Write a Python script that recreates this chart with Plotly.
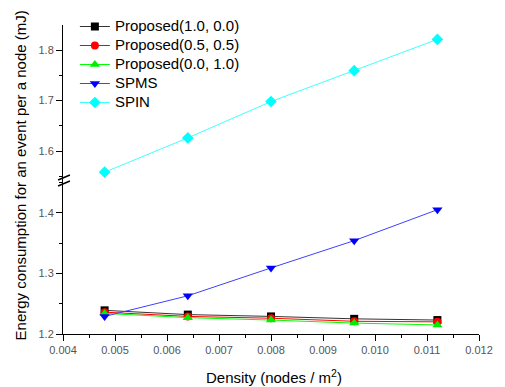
import plotly.graph_objects as go

density = [0.0048, 0.0064, 0.0080, 0.0096, 0.0112]
prop_10 = [1.239, 1.232, 1.229, 1.225, 1.223]
prop_55 = [1.236, 1.229, 1.226, 1.221, 1.220]
prop_01 = [1.234, 1.227, 1.223, 1.218, 1.215]
spms = [1.229, 1.263, 1.309, 1.354, 1.405]
spin = [1.558, 1.626, 1.698, 1.759, 1.821]
series_names = ["Proposed(1.0, 0.0)", "Proposed(0.5, 0.5)", "Proposed(0.0, 1.0)", "SPMS", "SPIN"]

W, H = 505, 387
L, R, T, B = 63, 22, 25, 53
plot_h = H - T - B
break_px = 180
split = (H - B - break_px) / plot_h

fig = go.Figure()

def add(name, y, color, lcolor, symbol, axis, size=8):
    fig.add_trace(go.Scatter(
        x=density, y=y, name='<span style="font-size:15px">' + name + '</span>',
        mode="lines+markers", yaxis=axis,
        line=dict(color=lcolor, width=1),
        marker=dict(color=color, symbol=symbol, size=size, line=dict(width=0)),
    ))

add(series_names[0], prop_10, "#000000", "#333333", "square", "y", 8)
add(series_names[1], prop_55, "#ff0000", "#ff0000", "circle", "y", 8)
add(series_names[2], prop_01, "#00ee00", "#00ff00", "triangle-up", "y", 9)
add(series_names[3], spms, "#0000ff", "#4040ff", "triangle-down", "y", 9)
add(series_names[4], spin, "#00ffff", "#40ffff", "diamond", "y2", 9)

tickfont = dict(family="Liberation Sans, Arial, sans-serif", size=11, color="#555555")

def px_to_paper_y(py):
    return (H - B - py) / plot_h

def px_to_paper_x(px):
    return (px - L) / (W - L - R)

fig.update_layout(
    width=W, height=H,
    margin=dict(l=L, r=R, t=T, b=B),
    paper_bgcolor="white", plot_bgcolor="white",
    font=dict(family="Liberation Sans, Arial, sans-serif", color="black"),
    showlegend=True,
    legend=dict(x=px_to_paper_x(75), y=px_to_paper_y(12), xanchor="left", yanchor="top",
                bgcolor="rgba(0,0,0,0)", font=dict(size=11, color="black"),
                tracegroupgap=0, itemwidth=30),
    xaxis=dict(range=[0.004, 0.012], dtick=0.001, tick0=0.004, tickformat=".3f",
               showgrid=False, zeroline=False, showline=True, linecolor="black",
               linewidth=1, ticks="outside", ticklen=6, tickcolor="black",
               minor=dict(dtick=0.0005, ticks="outside", ticklen=3, tickcolor="black"),
               tickfont=tickfont),
    yaxis=dict(domain=[0, split], range=[1.2, 1.454], tickvals=[1.2, 1.3, 1.4],
               ticktext=["1.2", "1.3", "1.4"],
               showgrid=False, zeroline=False, showline=True, linecolor="black",
               linewidth=1, ticks="outside", ticklen=6, tickcolor="black",
               minor=dict(tickvals=[1.25, 1.35, 1.45], ticks="outside", ticklen=3, tickcolor="black"),
               tickfont=tickfont),
    yaxis2=dict(domain=[split, 1], range=[1.5426, 1.8495], tickvals=[1.6, 1.7, 1.8],
                ticktext=["1.6", "1.7", "1.8"],
                showgrid=False, zeroline=False, showline=True, linecolor="black",
                linewidth=1, ticks="outside", ticklen=6, tickcolor="black",
                minor=dict(tickvals=[1.55, 1.65, 1.75, 1.85], ticks="outside", ticklen=3, tickcolor="black"),
                tickfont=tickfont),
)

# break marks on the y axis
for dy in (-3, 3):
    fig.add_shape(type="line", xref="paper", yref="paper",
                  x0=px_to_paper_x(58), x1=px_to_paper_x(70),
                  y0=px_to_paper_y(break_px + dy + 3), y1=px_to_paper_y(break_px + dy - 2),
                  line=dict(color="black", width=1.5))

fig.add_annotation(xref="paper", yref="paper", x=px_to_paper_x(20), y=px_to_paper_y(175),
                   text="Energy consumption for an event per a node (mJ)",
                   textangle=-90, showarrow=False, font=dict(size=15, color="black"),
                   xanchor="center", yanchor="middle")

fig.add_annotation(xref="paper", yref="paper", x=px_to_paper_x(276), y=px_to_paper_y(376),
                   text="Density (nodes / m<sup>2</sup>)",
                   showarrow=False, font=dict(size=15, color="black"),
                   xanchor="center", yanchor="middle")

fig.write_html("out.html")
